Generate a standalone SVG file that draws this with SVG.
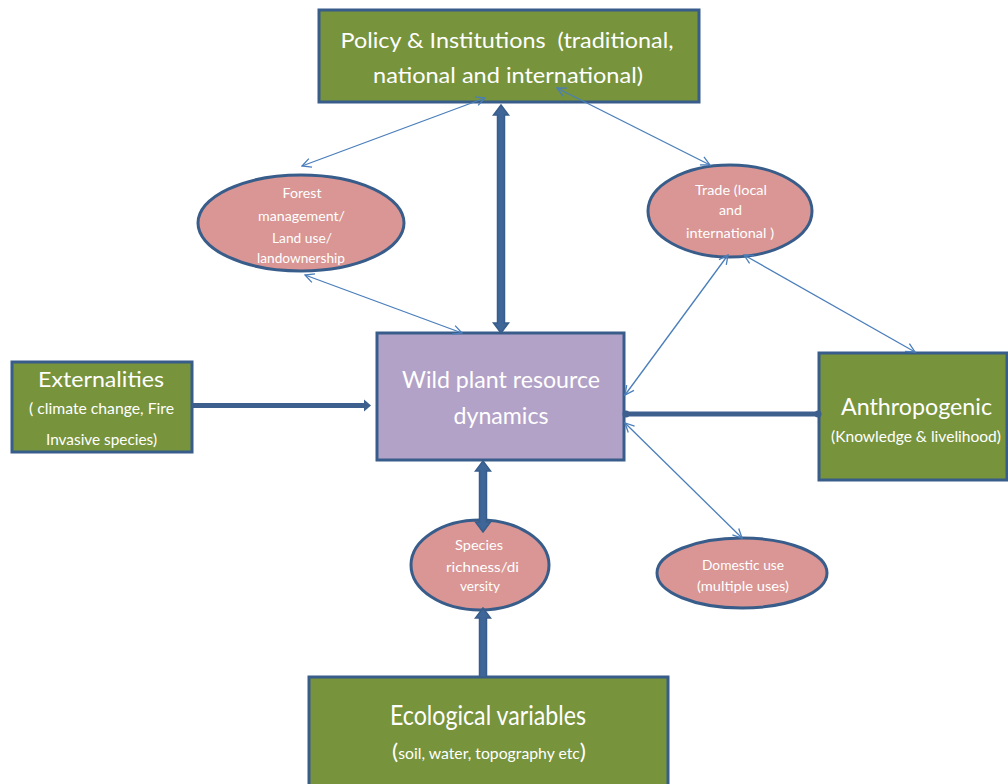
<svg xmlns="http://www.w3.org/2000/svg" width="1008" height="784" viewBox="0 0 1008 784">
  <style>
    .box { fill: #77933c; stroke: #385d8a; stroke-width: 3; }
    .core { fill: #b3a2c7; stroke: #385d8a; stroke-width: 3; }
    .oval { fill: #d99694; stroke: #385d8a; stroke-width: 3; }
    text { font-family: Lato, "Open Sans", "Liberation Sans", sans-serif; fill: #ffffff; text-anchor: middle; }
    .thin { stroke: #4a7ebb; stroke-width: 1.3; fill: none; marker-start: url(#vhead); marker-end: url(#vhead); }
    .fat { fill: #3f6698; stroke: #385d8a; stroke-width: 1.5; stroke-linejoin: miter; }
    .bar { stroke: #3c5f8e; stroke-width: 5; fill: none; }
  </style>
  <defs>
    <marker id="vhead" viewBox="0 0 12 12" refX="11" refY="6" markerWidth="12" markerHeight="12" markerUnits="userSpaceOnUse" orient="auto-start-reverse">
      <path d="M2,1.5 L11,6 L2,10.5" fill="none" stroke="#4a7ebb" stroke-width="1.3"/>
    </marker>
  </defs>

  <rect width="1008" height="784" fill="#ffffff"/>

  <!-- nodes -->
  <g id="policy">
    <rect class="box" x="319" y="10" width="380" height="92"/>
    <text x="507" y="48" font-size="22" textLength="333" lengthAdjust="spacingAndGlyphs" xml:space="preserve">Policy &amp; Institutions  (traditional,</text>
    <text x="508" y="83" font-size="22" textLength="270" lengthAdjust="spacingAndGlyphs">national and international)</text>
  </g>

  <g id="wild-plant">
    <rect class="core" x="377" y="333" width="247" height="127"/>
    <text x="501" y="388" font-size="24" textLength="198" lengthAdjust="spacingAndGlyphs">Wild plant resource</text>
    <text x="501" y="424" font-size="24" textLength="95" lengthAdjust="spacingAndGlyphs">dynamics</text>
  </g>

  <g id="externalities">
    <rect class="box" x="12" y="362" width="180" height="90"/>
    <text x="101" y="387" font-size="22" textLength="126" lengthAdjust="spacingAndGlyphs">Externalities</text>
    <text x="101.5" y="414" font-size="15" textLength="145" lengthAdjust="spacingAndGlyphs">( climate change, Fire</text>
    <text x="101.5" y="445" font-size="15" textLength="111" lengthAdjust="spacingAndGlyphs">Invasive species)</text>
  </g>

  <g id="anthropogenic">
    <rect class="box" x="819" y="353" width="188" height="127"/>
    <text x="916.5" y="415" font-size="24" textLength="151" lengthAdjust="spacingAndGlyphs">Anthropogenic</text>
    <text x="916" y="442" font-size="15" textLength="170" lengthAdjust="spacingAndGlyphs">(Knowledge &amp; livelihood)</text>
  </g>

  <g id="ecological">
    <rect class="box" x="309" y="677" width="359" height="120"/>
    <text x="488" y="725" font-size="26" textLength="196" lengthAdjust="spacingAndGlyphs">Ecological variables</text>
    <text x="489" y="759" font-size="15" textLength="194" lengthAdjust="spacingAndGlyphs"><tspan font-size="22">(</tspan>soil, water, topography etc<tspan font-size="22">)</tspan></text>
  </g>

  <g id="forest">
    <ellipse class="oval" cx="301" cy="223" rx="103" ry="48"/>
    <text x="302" y="198" font-size="13" textLength="39" lengthAdjust="spacingAndGlyphs">Forest</text>
    <text x="301.5" y="221" font-size="13" textLength="87" lengthAdjust="spacingAndGlyphs">management/</text>
    <text x="302" y="243" font-size="13" textLength="60" lengthAdjust="spacingAndGlyphs">Land use/</text>
    <text x="301" y="263" font-size="13" textLength="88" lengthAdjust="spacingAndGlyphs">landownership</text>
  </g>

  <g id="trade">
    <ellipse class="oval" cx="730" cy="211" rx="82" ry="46"/>
    <text x="731" y="195" font-size="13" textLength="72" lengthAdjust="spacingAndGlyphs">Trade (local</text>
    <text x="730.5" y="215" font-size="13" textLength="23" lengthAdjust="spacingAndGlyphs">and</text>
    <text x="730" y="238" font-size="13" textLength="88" lengthAdjust="spacingAndGlyphs">international )</text>
  </g>

  <g id="species">
    <ellipse class="oval" cx="480" cy="565" rx="69" ry="45"/>
    <text x="479" y="550" font-size="13" textLength="48" lengthAdjust="spacingAndGlyphs">Species</text>
    <text x="482.5" y="572" font-size="13" textLength="73" lengthAdjust="spacingAndGlyphs">richness/di</text>
    <text x="480" y="591" font-size="13" textLength="40" lengthAdjust="spacingAndGlyphs">versity</text>
  </g>

  <g id="domestic">
    <ellipse class="oval" cx="742" cy="573" rx="85" ry="35"/>
    <text x="743" y="570" font-size="14" textLength="82" lengthAdjust="spacingAndGlyphs">Domestic use</text>
    <text x="743" y="591" font-size="14" textLength="92" lengthAdjust="spacingAndGlyphs">(multiple uses)</text>
  </g>

  <!-- connectors -->
  <g id="connectors">
    <!-- thin two-way links -->
    <line class="thin" x1="485" y1="98" x2="302" y2="166"/>
    <line class="thin" x1="305" y1="275" x2="462" y2="333"/>
    <line class="thin" x1="557" y1="88" x2="710" y2="165"/>
    <line class="thin" x1="728" y1="255" x2="625" y2="395"/>
    <line class="thin" x1="744" y1="255" x2="915" y2="352"/>
    <line class="thin" x1="625" y1="423" x2="742" y2="538"/>

    <!-- policy <-> wild plant -->
    <polygon class="fat" points="501,105 508.5,115 504.5,115 504.5,323 508.5,323 501,333 493.5,323 497.5,323 497.5,115 493.5,115"/>
    <!-- wild plant <-> species -->
    <polygon class="fat" points="483,461 490.5,471 486.5,471 486.5,522 490.5,522 483,532 475.5,522 479.5,522 479.5,471 475.5,471"/>
    <!-- ecological -> species -->
    <polygon class="fat" points="483,608 490.5,618 486.5,618 486.5,677 479.5,677 479.5,618 475.5,618"/>

    <!-- externalities -> wild plant -->
    <line class="bar" x1="192" y1="405.5" x2="365" y2="405.5"/>
    <polygon points="371,405.5 364,399.5 364,411.5" fill="#3c5f8e"/>

    <!-- anthropogenic <-> wild plant -->
    <line class="bar" x1="625" y1="414" x2="819" y2="414"/>
    <circle cx="626" cy="414" r="3.5" fill="#3c5f8e"/>
    <circle cx="818" cy="414" r="3.5" fill="#3c5f8e"/>
  </g>
</svg>
